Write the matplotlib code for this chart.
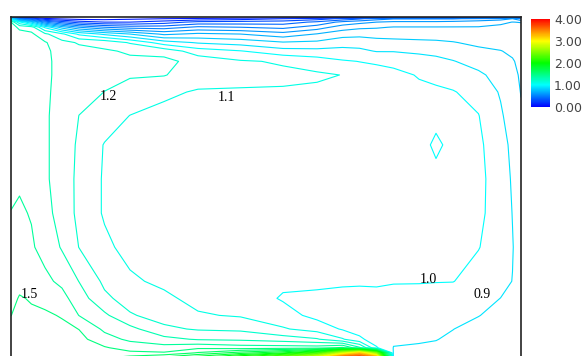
import numpy as np
import matplotlib
matplotlib.use("Agg")
import matplotlib.pyplot as plt
from matplotlib.colors import LinearSegmentedColormap, Normalize
from matplotlib.cm import ScalarMappable

# grid of the cavity section (m); y listed from the top wall down
x_nodes = [0.0, 0.05, 0.12, 0.2, 0.3, 0.4, 0.55, 0.7, 0.9, 1.1, 1.35, 1.6, 1.8,
           1.95, 2.05, 2.15, 2.25, 2.4, 2.5, 2.6, 2.75, 2.88, 2.95, 3.0]
y_nodes = [2.0, 1.99, 1.97, 1.94, 1.9, 1.85, 1.8, 1.74, 1.66, 1.56, 1.42, 1.25,
           1.05, 0.85, 0.65, 0.45, 0.35, 0.25, 0.17, 0.11, 0.06, 0.03, 0.0]

# speed, one list per x node (top -> bottom)
speed_cols = [
    [0.0, 0.9, 1.3, 1.34, 1.35, 1.35, 1.36, 1.36, 1.36, 1.37, 1.37, 1.38, 1.39, 1.401, 1.44, 1.47, 1.48, 1.499, 1.52, 1.53, 1.54, 1.55, 1.56],
    [0.0, 0.45, 1.02, 1.28, 1.33, 1.35, 1.36, 1.36, 1.37, 1.37, 1.38, 1.385, 1.39, 1.41, 1.45, 1.48, 1.505, 1.52, 1.53, 1.54, 1.55, 1.56, 1.57],
    [0.0, 0.3, 0.8, 1.25, 1.32, 1.34, 1.35, 1.35, 1.35, 1.36, 1.36, 1.37, 1.38, 1.395, 1.41, 1.45, 1.495, 1.51, 1.53, 1.54, 1.55, 1.56, 1.57],
    [0.0, 0.12, 0.5, 0.98, 1.22, 1.31, 1.32, 1.32, 1.32, 1.315, 1.31, 1.31, 1.31, 1.32, 1.37, 1.42, 1.46, 1.52, 1.54, 1.55, 1.56, 1.57, 1.58],
    [0.0, 0.08, 0.35, 0.75, 1.12, 1.23, 1.26, 1.27, 1.27, 1.27, 1.27, 1.27, 1.27, 1.275, 1.29, 1.38, 1.43, 1.49, 1.53, 1.55, 1.56, 1.57, 1.58],
    [0.0, 0.06, 0.25, 0.6, 0.98, 1.19, 1.23, 1.24, 1.24, 1.23, 1.199, 1.18, 1.17, 1.17, 1.198, 1.298, 1.35, 1.398, 1.498, 1.53, 1.55, 1.57, 1.59],
    [0.0, 0.06, 0.2, 0.5, 0.88, 1.17, 1.21, 1.225, 1.22, 1.199, 1.15, 1.095, 1.09, 1.09, 1.12, 1.18, 1.22, 1.32, 1.38, 1.44, 1.51, 1.55, 1.599],
    [0.0, 0.08, 0.2, 0.45, 0.8, 1.09, 1.19, 1.215, 1.21, 1.16, 1.098, 1.07, 1.06, 1.06, 1.07, 1.115, 1.16, 1.21, 1.33, 1.38, 1.46, 1.52, 1.65],
    [0.0, 0.1, 0.25, 0.45, 0.68, 0.95, 1.16, 1.23, 1.205, 1.12, 1.07, 1.06, 1.055, 1.055, 1.06, 1.08, 1.12, 1.16, 1.22, 1.33, 1.44, 1.51, 1.75],
    [0.0, 0.12, 0.33, 0.52, 0.72, 0.89, 1.05, 1.16, 1.15, 1.09, 1.06, 1.05, 1.05, 1.05, 1.05, 1.06, 1.07, 1.11, 1.19, 1.29, 1.48, 1.61, 1.9],
    [0.0, 0.15, 0.34, 0.5, 0.7, 0.86, 1.005, 1.11, 1.13, 1.09, 1.05, 1.04, 1.04, 1.04, 1.04, 1.05, 1.06, 1.09, 1.18, 1.28, 1.45, 1.75, 2.2],
    [0.0, 0.2, 0.35, 0.47, 0.64, 0.81, 0.94, 1.09, 1.12, 1.09, 1.05, 1.04, 1.04, 1.035, 1.03, 1.02, 0.99, 1.04, 1.11, 1.25, 1.45, 1.9, 2.6],
    [0.0, 0.25, 0.42, 0.55, 0.705, 0.82, 0.93, 1.05, 1.115, 1.08, 1.05, 1.04, 1.035, 1.03, 1.025, 1.02, 0.98, 0.97, 1.06, 1.21, 1.45, 2.2, 3.1],
    [0.0, 0.32, 0.53, 0.65, 0.76, 0.86, 0.93, 1.01, 1.098, 1.07, 1.045, 1.035, 1.03, 1.025, 1.02, 1.015, 0.97, 0.95, 0.99, 1.11, 1.52, 2.8, 3.9],
    [0.0, 0.38, 0.57, 0.68, 0.77, 0.86, 0.92, 0.998, 1.05, 1.05, 1.04, 1.035, 1.03, 1.025, 1.02, 1.01, 0.975, 0.95, 0.96, 1.02, 1.32, 3.2, 3.98],
    [0.0, 0.45, 0.6, 0.69, 0.76, 0.84, 0.895, 0.99, 1.03, 1.035, 1.03, 1.03, 1.025, 1.02, 1.02, 1.01, 0.98, 0.94, 0.93, 0.95, 1.01, 2.5, 3.6],
    [0.0, 0.49, 0.62, 0.705, 0.76, 0.83, 0.895, 0.98, 1.02, 1.03, 1.025, 1.025, 1.02, 1.02, 1.015, 1.005, 0.975, 0.94, 0.925, 0.91, 0.898, 0.88, 0.87],
    [0.0, 0.49, 0.62, 0.705, 0.76, 0.82, 0.88, 0.95, 0.995, 1.015, 1.02, 1.02, 1.02, 1.015, 1.012, 1.005, 0.97, 0.94, 0.92, 0.905, 0.895, 0.88, 0.87],
    [0.0, 0.49, 0.62, 0.705, 0.76, 0.815, 0.87, 0.93, 0.985, 1.01, 1.015, 0.99, 1.015, 1.013, 1.01, 1.003, 0.965, 0.935, 0.915, 0.902, 0.89, 0.875, 0.865],
    [0.0, 0.49, 0.63, 0.705, 0.755, 0.805, 0.85, 0.905, 0.96, 1.005, 1.015, 1.015, 1.015, 1.015, 1.01, 1.002, 0.96, 0.925, 0.901, 0.89, 0.88, 0.87, 0.86],
    [0.0, 0.52, 0.65, 0.705, 0.75, 0.78, 0.82, 0.86, 0.92, 0.97, 1.003, 1.015, 1.015, 1.013, 1.003, 0.97, 0.935, 0.902, 0.88, 0.87, 0.865, 0.86, 0.86],
    [0.0, 0.55, 0.68, 0.72, 0.75, 0.78, 0.802, 0.83, 0.86, 0.89, 0.915, 0.95, 0.97, 0.97, 0.96, 0.93, 0.899, 0.88, 0.87, 0.865, 0.86, 0.86, 0.86],
    [0.0, 0.6, 0.702, 0.73, 0.755, 0.775, 0.79, 0.805, 0.82, 0.835, 0.85, 0.87, 0.885, 0.897, 0.905, 0.898, 0.885, 0.87, 0.865, 0.86, 0.86, 0.86, 0.86],
    [0.0, 0.49, 0.695, 0.74, 0.76, 0.77, 0.78, 0.785, 0.79, 0.797, 0.81, 0.82, 0.83, 0.84, 0.849, 0.855, 0.855, 0.855, 0.855, 0.855, 0.855, 0.855, 0.855],
]

levels = [round(0.1 * i, 1) for i in range(1, 40)]
cbar_ticks = [0, 1, 2, 3, 4]

# labelled isolines: value and where the label sits (m)
label_vals = [1.2, 1.1, 1.5, 1.0, 0.9]
label_x = [0.571, 1.265, 0.106, 2.453, 2.771]
label_y = [1.531, 1.525, 0.370, 0.463, 0.370]

cmap = LinearSegmentedColormap.from_list(
    "rainbow5", ["#0000ff", "#00ffff", "#00ff00", "#ffff00", "#ff0000"])
norm = Normalize(vmin=0, vmax=4)

X, Y = np.meshgrid(x_nodes, y_nodes)
Z = np.array(speed_cols).T

fig = plt.figure(figsize=(5.87, 3.56), dpi=100)
ax = fig.add_axes([11 / 587, -2 / 356, 510 / 587, 341 / 356])
ax.contour(X, Y, Z, levels=levels, cmap=cmap, norm=norm, linewidths=0.8)
ax.set_xlim(0, 3.0)
ax.set_ylim(0, 2.0)
ax.set_xticks([])
ax.set_yticks([])
for side in ["left", "top", "right"]:
    ax.spines[side].set_linewidth(1.2)
    ax.spines[side].set_color("#222222")
ax.spines["bottom"].set_visible(False)

for v, lx, ly in zip(label_vals, label_x, label_y):
    ax.text(lx, ly, f"{v:.1f}", ha="center", va="center",
            family="Liberation Serif", fontsize=10, color="black")

cax = fig.add_axes([531 / 587, 1 - 107 / 356, 19 / 587, 88 / 356])
cb = fig.colorbar(ScalarMappable(norm=norm, cmap=cmap), cax=cax, ticks=cbar_ticks)
cb.outline.set_visible(False)
cb.ax.set_yticklabels([f"{t:.2f}" for t in cbar_ticks])
cb.ax.tick_params(length=0, pad=3, labelsize=9, labelcolor="#444444")

fig.savefig("out.png", dpi=100)
